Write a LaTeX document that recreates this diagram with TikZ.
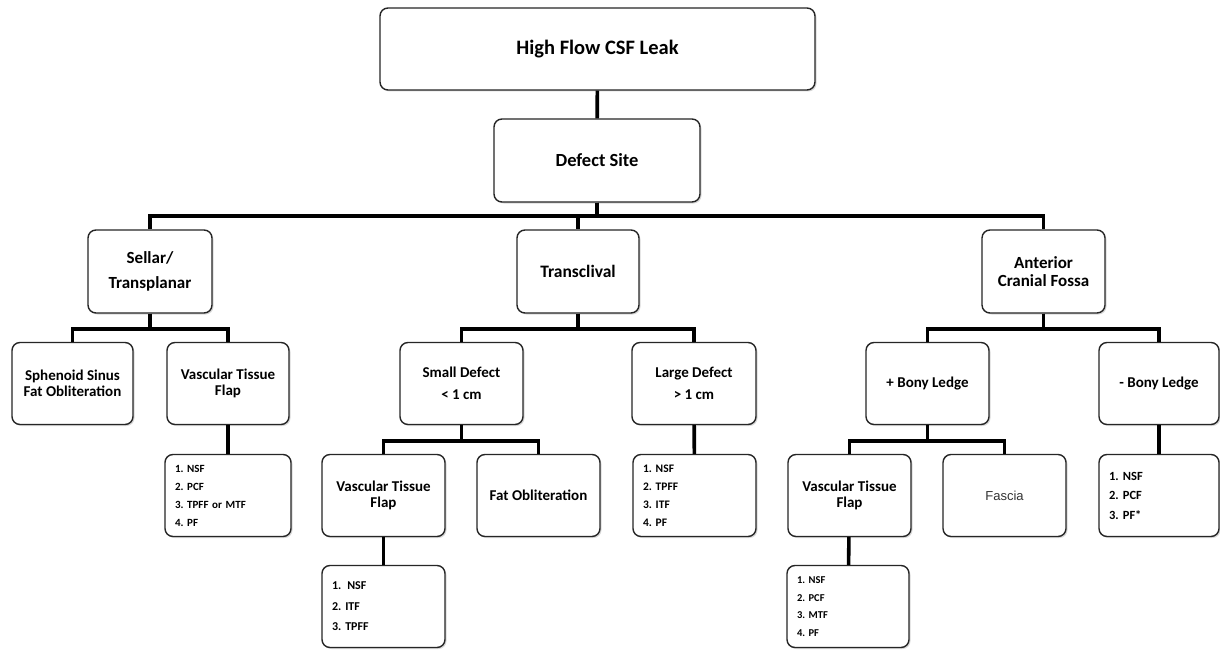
\documentclass[tikz,border=0pt]{standalone}
\usepackage{fontspec}
\setmainfont{Carlito}
\newfontfamily\fasciafont{Liberation Sans}
\usetikzlibrary{shadows}
\newcommand{\fsz}[2]{\fontsize{#1}{#2}\selectfont}

\begin{document}
\frenchspacing
\begin{tikzpicture}[x=1pt,y=-1pt,
  box/.style={draw=black!85,line width=1.4pt,rounded corners=8pt,fill=white,
    drop shadow={shadow xshift=1.5pt,shadow yshift=-1.5pt,opacity=.3},
    align=center,inner sep=0pt,minimum width=123pt,minimum height=82pt,font=\bfseries\fsz{15}{16}},
  listbox/.style={box,align=left,inner xsep=10pt,text width=103pt},
  conn/.style={line width=3.6pt,line join=miter}]
  \fill[white] (0,0) rectangle (1220,650);
  \useasboundingbox (0,0) rectangle (1220,650);
  % top levels
  \node[box,minimum width=435pt,font=\bfseries\fsz{20.5}{22}] (leak) at (597.5,49) {High Flow CSF Leak};
  \node[box,minimum width=206pt,minimum height=83pt,font=\bfseries\fsz{18.5}{20}] (site) at (597,160.5) {Defect Site};
  \node[box,minimum width=124pt,minimum height=83pt,font=\bfseries\fsz{17}{25}] (sellar) at (150,271.5) {Sellar/\\Transplanar};
  \node[box,minimum width=122pt,minimum height=83pt,font=\bfseries\fsz{17.5}{19}] (clival) at (578,271.5) {Transclival};
  \node[box,minimum height=83pt,font=\bfseries\fsz{17}{18}] (fossa) at (1043.5,271.5) {Anterior\\Cranial Fossa};
  % third level
  \node[box,minimum width=121pt] (sinus) at (72.5,383.5) {Sphenoid Sinus\\Fat Obliteration};
  \node[box,minimum width=122pt] (vtfa) at (228,383.5) {Vascular Tissue\\Flap};
  \node[box,font=\bfseries\fsz{15}{22}] (small) at (461.5,383.5) {Small Defect\\\textless{} 1 cm};
  \node[box,minimum width=124pt,font=\bfseries\fsz{15}{22}] (large) at (694,383.5) {Large Defect\\\textgreater{} 1 cm};
  \node[box] (ledge) at (927.5,383.5) {+ Bony Ledge};
  \node[box,minimum width=120pt] (noledge) at (1159,383.5) {- Bony Ledge};
  % fourth level
  \node[listbox,minimum width=126pt,text width=106pt,font=\bfseries\fsz{11}{18}] (lista) at (228,495.5) {1. NSF\\2. PCF\\3. TPFF or MTF\\4. PF};
  \node[box] (vtfb) at (383.5,495.5) {Vascular Tissue\\Flap};
  \node[box] (fat) at (538.5,495.5) {Fat Obliteration};
  \node[listbox,font=\bfseries\fsz{11.5}{18}] (listb) at (694.5,495.5) {1. NSF\\2. TPFF\\3. ITF\\4. PF};
  \node[box] (vtfc) at (849.5,495.5) {Vascular Tissue\\Flap};
  \node[box,font=\fasciafont\fsz{13}{15},text=black!80] (fascia) at (1004.5,495.5) {Fascia};
  \node[listbox,minimum width=120pt,text width=100pt,font=\bfseries\fsz{12.5}{19.5}] (listc) at (1159,495.5) {1. NSF\\2. PCF\\3. PF*};
  % fifth level
  \node[listbox,font=\bfseries\fsz{12}{20.5}] (listd) at (383.5,606.5) {1.\enspace NSF\\2. ITF\\3. TPFF};
  \node[listbox,minimum width=122pt,text width=102pt,font=\bfseries\fsz{10.5}{17.7}] (liste) at (848,606.5) {1. NSF\\2. PCF\\3. MTF\\4. PF};
  % connectors
  \draw[conn] (leak) -- (site);
  \draw[conn] (site.south) -- ++(0,13) -| (sellar.north);
  \draw[conn] (site.south) -- ++(0,13) -| (clival.north);
  \draw[conn] (site.south) -- ++(0,13) -| (fossa.north);
  \draw[conn] (sellar.south) -- ++(0,15) -| (sinus.north);
  \draw[conn] (sellar.south) -- ++(0,15) -| (vtfa.north);
  \draw[conn] (clival.south) -- ++(0,15) -| (small.north);
  \draw[conn] (clival.south) -- ++(0,15) -| (large.north);
  \draw[conn] (fossa.south) -- ++(0,15) -| (ledge.north);
  \draw[conn] (fossa.south) -- ++(0,15) -| (noledge.north);
  \draw[conn] (vtfa) -- (lista);
  \draw[conn] (small.south) -- ++(0,16) -| (vtfb.north);
  \draw[conn] (small.south) -- ++(0,16) -| (fat.north);
  \draw[conn] (large) -- (listb);
  \draw[conn] (ledge.south) -- ++(0,16) -| (vtfc.north);
  \draw[conn] (ledge.south) -- ++(0,16) -| (fascia.north);
  \draw[conn] (noledge) -- (listc);
  \draw[conn] (vtfb) -- (listd);
  \draw[conn] (vtfc) -- (liste);
\end{tikzpicture}
\end{document}
